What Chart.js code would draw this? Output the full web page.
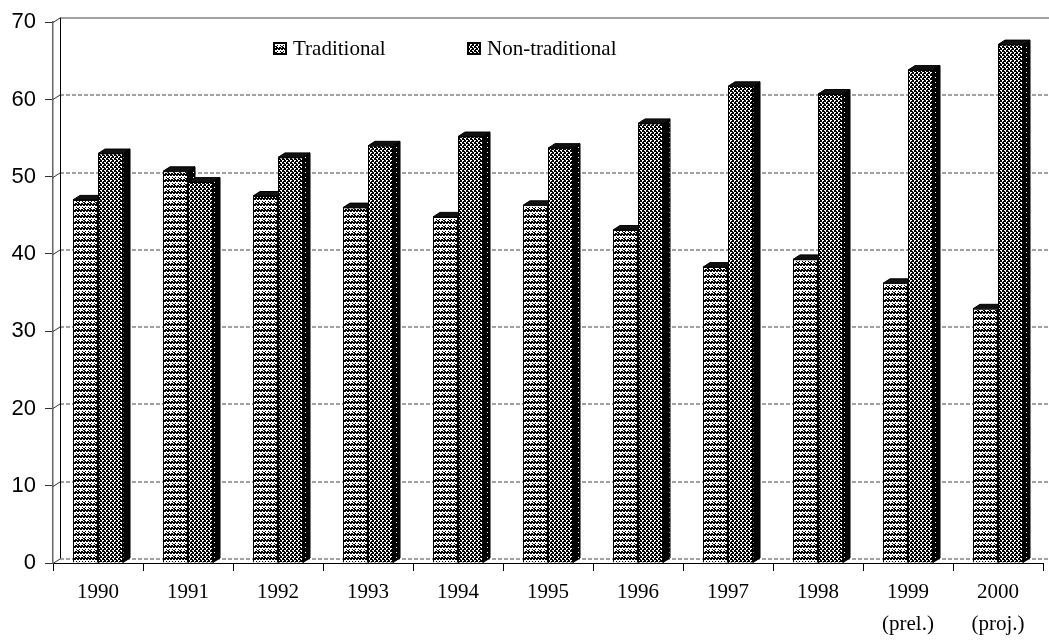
<!DOCTYPE html>
<html>
<head>
<meta charset="utf-8">
<script src="https://cdn.jsdelivr.net/npm/chart.js@4.4.1/dist/chart.umd.min.js"></script>
<style>
  html, body { margin: 0; padding: 0; background: #fff; }
  #wrap { width: 1049px; height: 641px; position: relative; }
</style>
</head>
<body>
<div id="wrap"><canvas id="c" width="1049" height="641"></canvas></div>
<script>
// Share of exports (%) by year
const years = ['1990', '1991', '1992', '1993', '1994', '1995', '1996', '1997', '1998',
  ['1999', '(prel.)'], ['2000', '(proj.)']];
const traditional    = [47.0, 50.7, 47.5, 46.0, 44.8, 46.3, 43.1, 38.3, 39.3, 36.2, 32.9];
const nonTraditional = [53.0, 49.3, 52.5, 54.0, 55.2, 53.7, 56.9, 61.7, 60.7, 63.8, 67.1];
const yTickValues = [0, 10, 20, 30, 40, 50, 60, 70];

// 3-D depth of the bars and back wall (pixels)
const DX = 7, DY = -4.5;

// Bitmap fill patterns: 'X' = black pixel, '.' = white pixel
function makePattern(rows) {
  const c = document.createElement('canvas');
  c.width = rows[0].length; c.height = rows.length;
  const g = c.getContext('2d');
  g.fillStyle = '#fff'; g.fillRect(0, 0, c.width, c.height);
  g.fillStyle = '#000';
  rows.forEach((r, y) => { for (let x = 0; x < r.length; x++) if (r[x] === 'X') g.fillRect(x, y, 1, 1); });
  return document.getElementById('c').getContext('2d').createPattern(c, 'repeat');
}
const stripePattern = makePattern([
  'XXXXXX',
  'X.XX.X',
  '......',
  '.X..X.',
  'X....X',
  'XX.XX.'
]);
const checkPattern = makePattern([
  'XX..',
  'XX.X',
  '..XX',
  'X.XX'
]);
const sidePattern = makePattern([
  'XXXXXXX',
  'XXXXXXX',
  'XXXX.XX',
  'XXXXXXX',
  'XXXXXXX'
]);

// Back wall: dotted gridlines and wall edge
const backWall = {
  id: 'backWall',
  beforeDatasetsDraw(chart) {
    const ctx = chart.ctx, ys = chart.scales.y;
    const { left, right, top, bottom } = chart.chartArea;
    ctx.save();
    ctx.lineWidth = 1;
    ys.ticks.forEach(t => {
      const py = Math.round(ys.getPixelForValue(t.value)) + 0.5;
      ctx.strokeStyle = '#333';
      ctx.setLineDash([]);
      ctx.beginPath(); ctx.moveTo(left, py); ctx.lineTo(left + DX, py + DY); ctx.stroke();
      ctx.strokeStyle = '#444';
      if (t.value !== ys.max) ctx.setLineDash([4, 2]);
      ctx.beginPath(); ctx.moveTo(left + DX, py + DY); ctx.lineTo(right + DX, py + DY); ctx.stroke();
    });
    ctx.setLineDash([]);
    ctx.strokeStyle = '#000';
    ctx.beginPath(); ctx.moveTo(left + DX + 0.5, top + DY); ctx.lineTo(left + DX + 0.5, bottom + DY); ctx.stroke();
    ctx.restore();
  }
};

// Side and top faces of each bar; later series are repainted over the
// side faces of earlier ones so adjacent bars overlap correctly.
function drawFaces(ctx, bar) {
  const { x, y, base, width } = bar.getProps(['x', 'y', 'base', 'width'], true);
  const l = x - width / 2, r = x + width / 2;
  ctx.lineWidth = 1;
  ctx.strokeStyle = '#000';
  ctx.beginPath();
  ctx.moveTo(r, y); ctx.lineTo(r + DX, y + DY); ctx.lineTo(r + DX, base + DY); ctx.lineTo(r, base);
  ctx.closePath();
  ctx.fillStyle = sidePattern; ctx.fill(); ctx.stroke();
  ctx.beginPath();
  ctx.moveTo(l, y); ctx.lineTo(l + DX, y + DY); ctx.lineTo(r + DX, y + DY); ctx.lineTo(r, y);
  ctx.closePath();
  ctx.fillStyle = '#111'; ctx.fill(); ctx.stroke();
}
const bars3d = {
  id: 'bars3d',
  afterDatasetsDraw(chart) {
    const ctx = chart.ctx;
    ctx.save();
    chart.data.datasets.forEach((ds, i) => {
      const meta = chart.getDatasetMeta(i);
      meta.data.forEach(bar => {
        if (i > 0) { ctx.save(); bar.draw(ctx, chart.chartArea); ctx.restore(); }
      });
      meta.data.forEach(bar => drawFaces(ctx, bar));
    });
    ctx.restore();
  }
};

// Legend drawn inside the plot area
const innerLegend = {
  id: 'innerLegend',
  afterDraw(chart) {
    const ctx = chart.ctx;
    const items = [
      { x: 273, fill: stripePattern, label: chart.data.datasets[0].label },
      { x: 467, fill: checkPattern, label: chart.data.datasets[1].label }
    ];
    ctx.save();
    ctx.font = '21px "Liberation Serif"';
    ctx.textBaseline = 'middle';
    items.forEach(it => {
      ctx.fillStyle = it.fill;
      ctx.fillRect(it.x, 42, 14, 13);
      ctx.strokeStyle = '#000'; ctx.lineWidth = 2;
      ctx.strokeRect(it.x + 1, 43, 12, 11);
      ctx.fillStyle = '#000';
      ctx.fillText(it.label, it.x + 20, 49);
    });
    ctx.restore();
  }
};

new Chart(document.getElementById('c'), {
  type: 'bar',
  data: {
    labels: years,
    datasets: [
      {
        label: 'Traditional', data: traditional,
        backgroundColor: stripePattern, borderColor: '#000', borderWidth: 1,
        barPercentage: 1, categoryPercentage: 0.556
      },
      {
        label: 'Non-traditional', data: nonTraditional,
        backgroundColor: checkPattern, borderColor: '#000', borderWidth: 1,
        barPercentage: 1, categoryPercentage: 0.556
      }
    ]
  },
  options: {
    responsive: false,
    animation: false,
    devicePixelRatio: 1,
    layout: { padding: { top: 19, right: 6, left: 0, bottom: 0 } },
    plugins: { legend: { display: false }, tooltip: { enabled: false } },
    scales: {
      x: {
        grid: { display: true, drawOnChartArea: false, offset: true, tickLength: 8, color: '#000', tickColor: '#000' },
        border: { display: true, color: '#000', width: 1 },
        ticks: { font: { family: 'Liberation Serif', size: 21, lineHeight: 1.5 }, color: '#000', padding: 6, maxRotation: 0, autoSkip: false },
        afterFit(s) { s.height = 641 - 563; }
      },
      y: {
        min: 0, max: 70,
        afterBuildTicks(s) { s.ticks = yTickValues.map(v => ({ value: v })); },
        ticks: { font: { family: 'Liberation Sans', size: 22 }, color: '#000', padding: 9 },
        grid: { drawOnChartArea: false, tickLength: 8, tickColor: '#333' },
        border: { color: '#666', width: 1.5 },
        afterFit(s) { s.width = 53; }
      }
    }
  },
  plugins: [backWall, bars3d, innerLegend]
});
</script>
</body>
</html>
